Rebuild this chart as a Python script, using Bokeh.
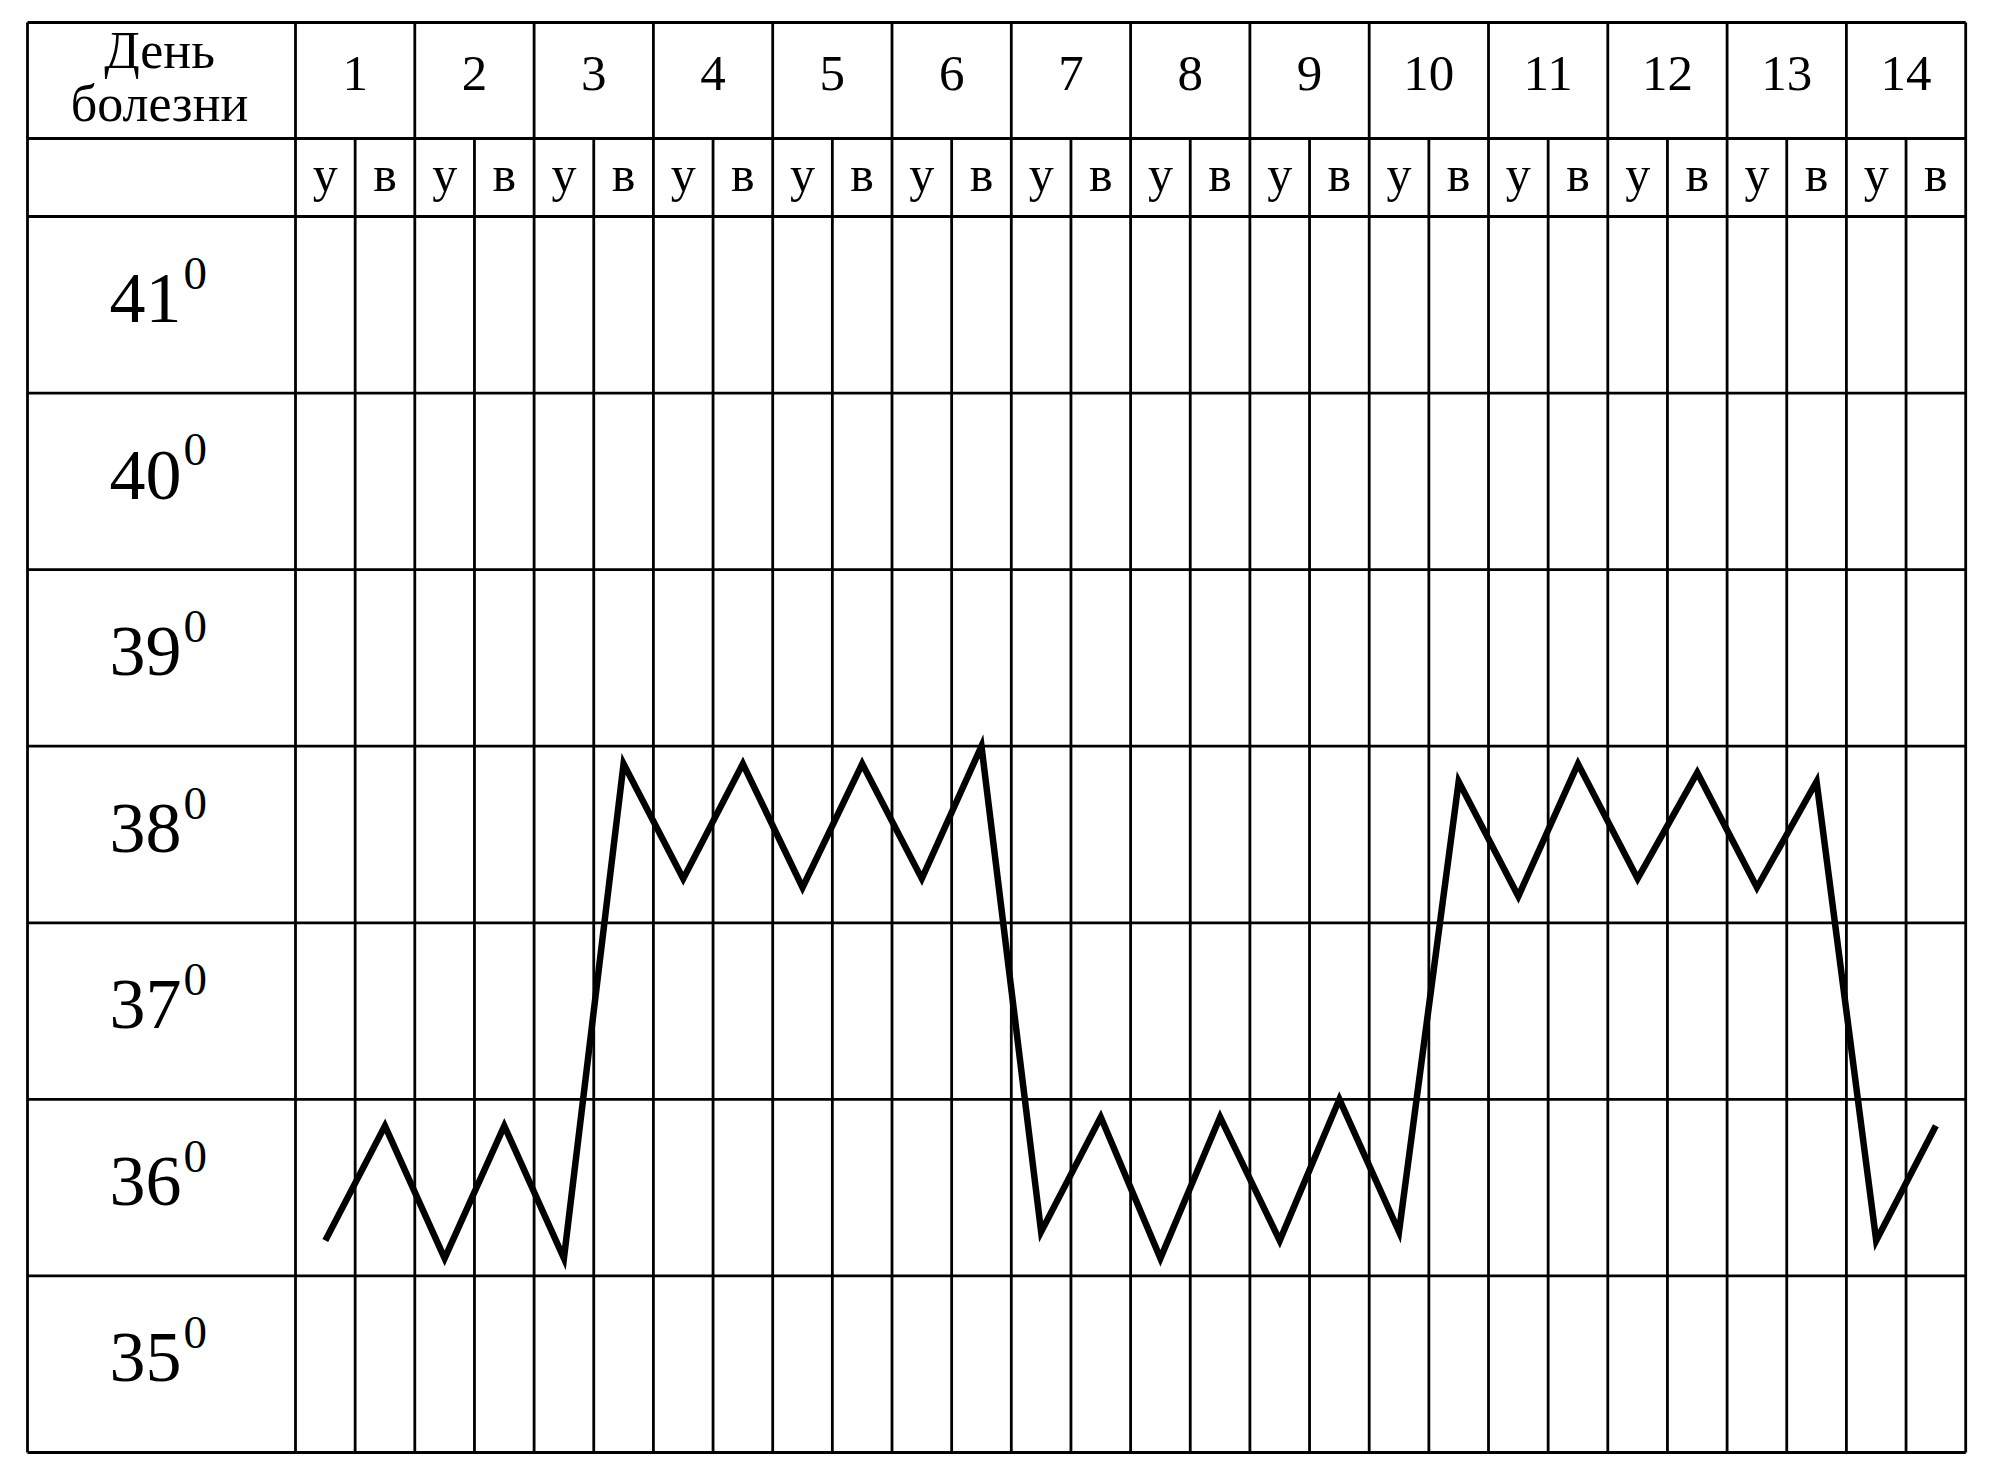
from bokeh.plotting import figure
from bokeh.models import Range1d
from bokeh.embed import file_html
from bokeh.resources import INLINE
from bokeh.core.properties import value

# ---- data -------------------------------------------------------------
days = list(range(1, 15))                      # день болезни
day_parts = ["у", "в"]                         # утро / вечер
morning = [36.2, 36.1, 36.1, 38.25, 38.2, 38.25, 36.25,
           36.1, 36.2, 36.25, 38.15, 38.25, 38.2, 36.2]
evening = [36.85, 36.85, 38.9, 38.9, 38.9, 39.0, 36.9,
           36.9, 37.0, 38.8, 38.9, 38.85, 38.8, 36.85]
temp_labels = [41, 40, 39, 38, 37, 36, 35]
header_title = ["День", "болезни"]

# ---- page geometry (pixels) --------------------------------------------
W, H = 1994, 1463
LEFT, LABEL_R = 27, 295           # table left edge, label column right edge
TOP, HEAD1, HEAD2, BOTTOM = 22, 138, 216, 1452
n_slots = len(days) * len(day_parts)
COL_W = 59.65                      # width of one half-day column
ROW_H = (BOTTOM - HEAD2) / len(temp_labels)
t_min = min(temp_labels)
t_max = max(temp_labels) + 1
RAISE = 0.33                       # baseline correction, in em


def px2x(px):
    return (px - LABEL_R) / COL_W


def py2y(py):
    return t_max - (py - HEAD2) / ROW_H


def base_y(py, size):
    # y of a text baseline placed at pixel row py for a font of given size
    return py2y(py - RAISE * size)


p = figure(width=W, height=H, output_backend="svg", toolbar_location=None,
           x_range=Range1d(px2x(0), px2x(W)), y_range=Range1d(py2y(H), py2y(0)),
           x_axis_location=None, y_axis_location=None, min_border=0)
p.grid.visible = False
p.outline_line_color = None
p.background_fill_color = "white"
p.border_fill_color = "white"

x_left = px2x(LEFT)
y_top = py2y(TOP)
y_head = py2y(HEAD1)
GRID_W = 2.8
FONT = value("Liberation Serif")

# horizontal rules: temperature rows + header rows
h_ys = list(range(t_min, t_max + 1)) + [y_head, y_top]
p.segment(x0=[x_left] * len(h_ys), x1=[n_slots] * len(h_ys), y0=h_ys, y1=h_ys,
          line_color="black", line_width=GRID_W)

# vertical rules: table edge, label column, day and half-day boundaries
v_xs, v_top = [x_left, 0], [y_top, y_top]
for k in range(1, n_slots + 1):
    v_xs.append(k)
    v_top.append(y_top if k % 2 == 0 else y_head)
p.segment(x0=v_xs, x1=v_xs, y0=[t_min] * len(v_xs), y1=v_top,
          line_color="black", line_width=GRID_W)

# header texts
label_cx = px2x((LEFT + LABEL_R) / 2 - 2)
p.text(x=[label_cx, label_cx], y=[base_y(66.7, 52), base_y(120, 52)],
       text=header_title, text_font=FONT, text_font_size="52px",
       text_align="center", text_baseline="alphabetic", text_color="black")

p.text(x=[2 * d - 1 for d in days], y=[base_y(90, 51)] * len(days),
       text=[str(d) for d in days], text_font=FONT, text_font_size="51px",
       text_align="center", text_baseline="alphabetic", text_color="black")

p.text(x=[i + 0.5 for i in range(n_slots)], y=[base_y(190, 50)] * n_slots,
       text=[day_parts[i % 2] for i in range(n_slots)], text_font=FONT,
       text_font_size="50px", text_align="center", text_baseline="alphabetic",
       text_color="black")

# temperature scale labels with a raised "0"
row_tops = [HEAD2 + (t_max - (t + 1)) * ROW_H for t in temp_labels]
p.text(x=[px2x(181)] * len(temp_labels), y=[base_y(r + 105.7, 72) for r in row_tops],
       text=[str(t) for t in temp_labels], text_font=FONT, text_font_size="72px",
       text_align="right", text_baseline="alphabetic", text_color="black")
p.text(x=[px2x(183)] * len(temp_labels), y=[base_y(r + 72.3, 47) for r in row_tops],
       text=["0"] * len(temp_labels), text_font=FONT, text_font_size="47px",
       text_align="left", text_baseline="alphabetic", text_color="black")

# temperature curve: morning and evening readings interleaved
curve_x, curve_y = [], []
for i, (m, e) in enumerate(zip(morning, evening)):
    curve_x += [2 * i + 0.5, 2 * i + 1.5]
    curve_y += [m, e]
p.line(curve_x, curve_y, line_color="black", line_width=6.5, line_join="miter")

open("out.html", "w").write(file_html(p, INLINE, title="Температурная кривая"))
